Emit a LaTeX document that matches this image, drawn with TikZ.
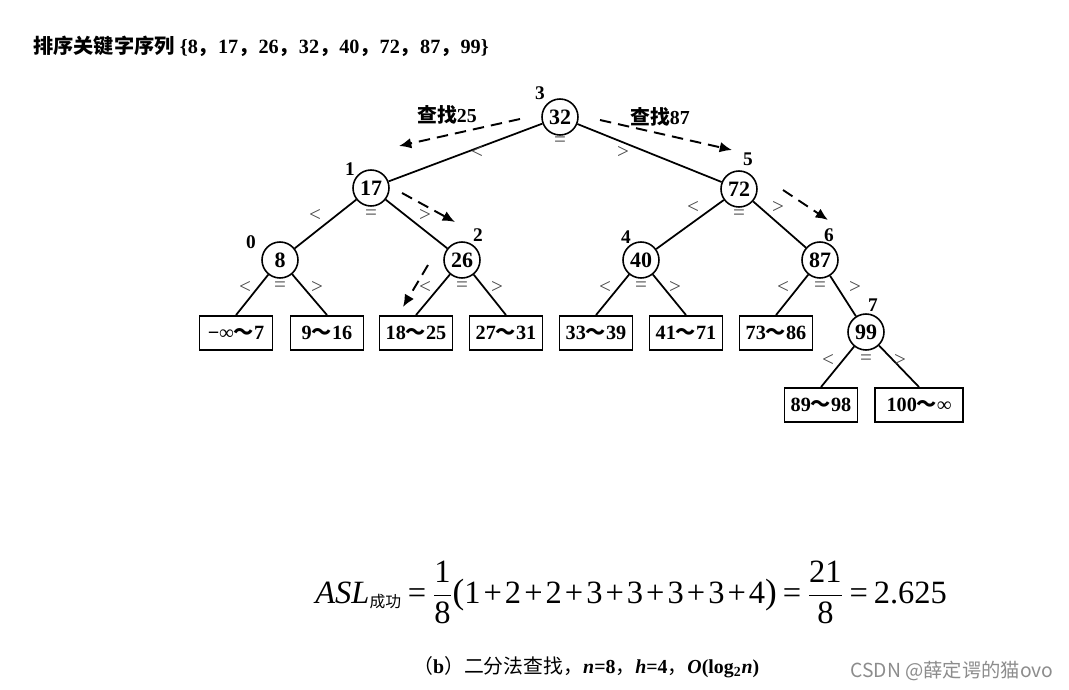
\documentclass[tikz,border=0pt]{standalone}
\usepackage{fontspec}
\setmainfont{Liberation Serif}
\newfontfamily\zhfont{Noto Sans CJK SC}
\usetikzlibrary{arrows.meta}
\newcommand\zh[1]{{\zhfont #1}}
\newcommand\tpl{\mathbin{\mbox{+}}}
\newcommand\teq{\mathrel{\mbox{=}}}
\newcommand\tx[1]{\mbox{#1}}
\begin{document}
\begin{tikzpicture}[x=0.02cm,y=-0.02cm,
  keynode/.style={circle,draw,line width=0.9pt,minimum size=0.72cm,inner sep=0pt,fill=white,
    font=\bfseries\fontsize{12.5}{14}\selectfont},
  leafbox/.style={rectangle,draw,line width=1.1pt,minimum width=1.46cm,minimum height=0.68cm,inner sep=1pt,
    font=\bfseries\fontsize{11.5}{13}\selectfont},
  idx/.style={font=\bfseries\fontsize{11}{12}\selectfont,inner sep=0pt},
  cmp/.style={font=\fontsize{12}{13}\selectfont,text=black!72,inner sep=0pt},
  edge/.style={line width=1pt},
  search/.style={line width=1.1pt,dash pattern=on 6.5pt off 4pt,-{Latex[length=7pt,width=6pt]}},
  lbl/.style={font=\bfseries\fontsize{11.3}{13}\selectfont,inner sep=0pt}]
\useasboundingbox (0,0) rectangle (1069,690);

% title
\node[anchor=west,inner sep=0pt,font=\fontsize{11.5}{13}\selectfont] (title) at (33,46) {\zh{\bfseries 排序关键字序列} {\bfseries\{8\zh{，}17\zh{，}26\zh{，}32\zh{，}40\zh{，}72\zh{，}87\zh{，}99\}}};

% key nodes
\node[keynode] (n32) at (560,117) {32};
\node[keynode] (n17) at (371,188) {17};
\node[keynode] (n72) at (739,189) {72};
\node[keynode] (n8)  at (280,260) {8};
\node[keynode] (n26) at (462,260) {26};
\node[keynode] (n40) at (641,260) {40};
\node[keynode] (n87) at (820,260) {87};
\node[keynode] (n99) at (866,332) {99};

% leaves
\node[leafbox] (l0) at (236,333) {−∞\zh{～}7};
\node[leafbox] (l1) at (327,333) {9\zh{～}16};
\node[leafbox] (l2) at (416,333) {18\zh{～}25};
\node[leafbox] (l3) at (506,333) {27\zh{～}31};
\node[leafbox] (l4) at (596,333) {33\zh{～}39};
\node[leafbox] (l5) at (686,333) {41\zh{～}71};
\node[leafbox] (l6) at (776,333) {73\zh{～}86};
\node[leafbox] (l7) at (821,405) {89\zh{～}98};
\node[leafbox,minimum width=1.76cm] (l8) at (919,405) {100\zh{～}∞};

% tree edges
\draw[edge] (n32) -- (n17);
\draw[edge] (n32) -- (n72);
\draw[edge] (n17) -- (n8);
\draw[edge] (n17) -- (n26);
\draw[edge] (n72) -- (n40);
\draw[edge] (n72) -- (n87);
\draw[edge] (n87) -- (n99);
\draw[edge] (n8) -- (l0.north);
\draw[edge] (n8) -- (l1.north);
\draw[edge] (n26) -- (l2.north);
\draw[edge] (n26) -- (l3.north);
\draw[edge] (n40) -- (l4.north);
\draw[edge] (n40) -- (l5.north);
\draw[edge] (n87) -- (l6.north);
\draw[edge] (n99) -- (l7.north);
\draw[edge] (n99) -- (l8.north);

% index labels
\node[idx] (i3) at (540,93) {3};
\node[idx] (i1) at (350,169) {1};
\node[idx] (i5) at (748,159) {5};
\node[idx] (i0) at (251,242) {0};
\node[idx] (i2) at (478,235) {2};
\node[idx] (i4) at (626,237) {4};
\node[idx] (i6) at (829,235) {6};
\node[idx] (i7) at (873,305) {7};

% comparison labels
\node[cmp] (c32l) at (477,152) {<};
\node[cmp] (c32e) at (560,142) {=};
\node[cmp] (c32g) at (623,152) {>};
\node[cmp] (c17l) at (315,215) {<};
\node[cmp] (c17e) at (371,215) {=};
\node[cmp] (c17g) at (425,215) {>};
\node[cmp] (c72l) at (693,207) {<};
\node[cmp] (c72e) at (739,215) {=};
\node[cmp] (c72g) at (778,207) {>};
\node[cmp] (c8l) at (245,287) {<};
\node[cmp] (c8e) at (280,287) {=};
\node[cmp] (c8g) at (317,287) {>};
\node[cmp] (c26l) at (425,287) {<};
\node[cmp] (c26e) at (462,287) {=};
\node[cmp] (c26g) at (497,287) {>};
\node[cmp] (c40l) at (605,287) {<};
\node[cmp] (c40e) at (641,287) {=};
\node[cmp] (c40g) at (675,287) {>};
\node[cmp] (c87l) at (783,287) {<};
\node[cmp] (c87e) at (820,287) {=};
\node[cmp] (c87g) at (855,287) {>};
\node[cmp] (c99l) at (828,360) {<};
\node[cmp] (c99e) at (866,360) {=};
\node[cmp] (c99g) at (900,360) {>};

% search labels
\node[lbl] (s25) at (447,115) {\zh{\bfseries 查找}25};
\node[lbl] (s87) at (660,117) {\zh{\bfseries 查找}87};

% search arrows
\coordinate (a1s) at (520,119); \coordinate (a1e) at (399,146);
\coordinate (a2s) at (600,120); \coordinate (a2e) at (732,150);
\coordinate (a3s) at (402,193); \coordinate (a3e) at (455,222);
\coordinate (a4s) at (428,265); \coordinate (a4e) at (403,307);
\coordinate (a5s) at (783,190); \coordinate (a5e) at (828,220);
\draw[search] (a1s) -- (a1e);
\draw[search] (a2s) -- (a2e);
\draw[search] (a3s) -- (a3e);
\draw[search] (a4s) -- (a4e);
\draw[search] (a5s) -- (a5e);

% formula
\node[anchor=base west,inner sep=0pt] (asl) at (315,603) {\fontsize{18.5}{22}\selectfont
  \medmuskip=1.8mu \thickmuskip=3.5mu
  $\displaystyle \tx{\textit{ASL}}_{\mbox{\zhfont\fontsize{9}{10}\selectfont 成功}} \teq\frac{\tx{1}}{\tx{8}}\tx{\fontsize{20}{22}\selectfont(}\tx{1}\tpl\tx{2}\tpl\tx{2}\tpl\tx{3}\tpl\tx{3}\tpl\tx{3}\tpl\tx{3}\tpl\tx{4}\tx{\fontsize{20}{22}\selectfont)}\teq\frac{\tx{21}}{\tx{8}}\teq\tx{2.625}$};

% caption
\node[anchor=west,inner sep=0pt] (cap) at (413,667) {\fontsize{11.3}{13}\selectfont\zh{（}\textbf{b}\zh{）二分法查找，}\textbf{\textit{n}=8}\zh{，}\textbf{\textit{h}=4}\zh{，}\textbf{\textit{O}(log\textsubscript{2}\textit{n})}};

% watermark
\node[anchor=west,inner sep=0pt,text=black!45] (wm) at (850,671) {\zhfont\fontsize{11}{13}\selectfont CSDN @薛定谔的猫ovo};
\end{tikzpicture}
\end{document}
